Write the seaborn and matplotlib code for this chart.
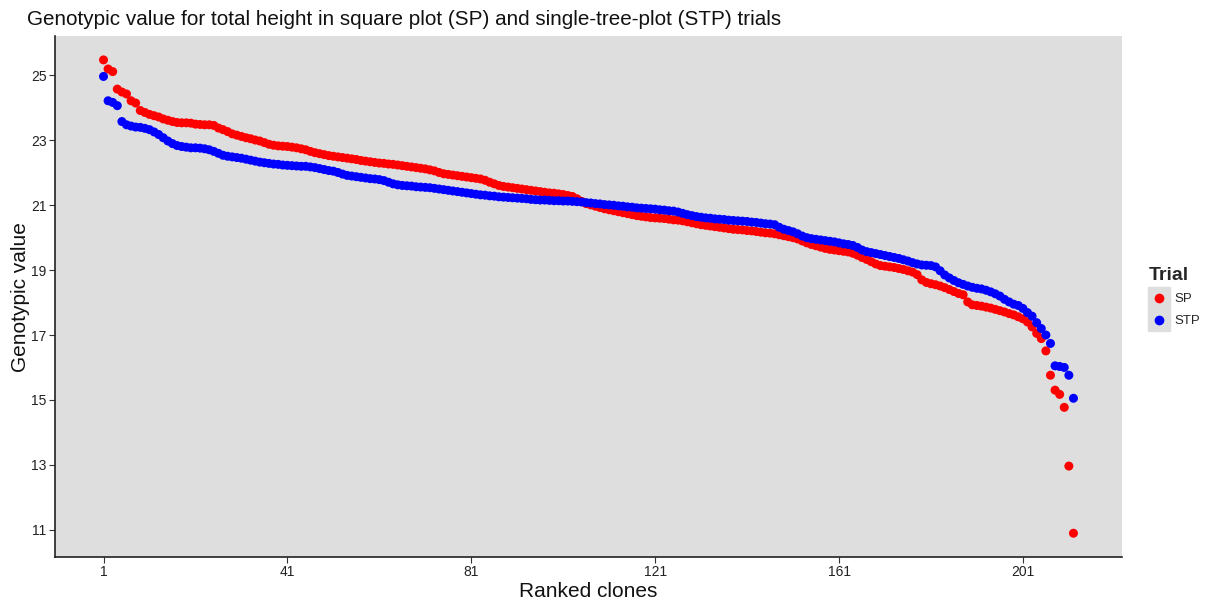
import numpy as np
import pandas as pd
import matplotlib
matplotlib.use("Agg")
import matplotlib.pyplot as plt
from matplotlib.lines import Line2D
from matplotlib.legend_handler import HandlerTuple
import seaborn as sns

# genotypic values, ranked clones 1..212
sp_values = [
    25.48, 25.20, 25.12, 24.58, 24.49, 24.43, 24.22, 24.15, 23.92, 23.86,
    23.80, 23.76, 23.72, 23.66, 23.62, 23.58, 23.55, 23.54, 23.54, 23.53,
    23.50, 23.49, 23.48, 23.48, 23.46, 23.38, 23.33, 23.27, 23.20, 23.16,
    23.12, 23.08, 23.05, 23.01, 22.98, 22.93, 22.88, 22.85, 22.83, 22.82,
    22.81, 22.79, 22.77, 22.74, 22.71, 22.66, 22.62, 22.59, 22.56, 22.53,
    22.51, 22.49, 22.47, 22.45, 22.43, 22.41, 22.38, 22.36, 22.34, 22.32,
    22.30, 22.29, 22.27, 22.26, 22.24, 22.22, 22.20, 22.18, 22.16, 22.14,
    22.12, 22.09, 22.06, 22.01, 21.97, 21.95, 21.93, 21.91, 21.89, 21.87,
    21.85, 21.83, 21.81, 21.77, 21.71, 21.66, 21.61, 21.58, 21.56, 21.54,
    21.52, 21.50, 21.48, 21.46, 21.44, 21.42, 21.40, 21.38, 21.37, 21.35,
    21.33, 21.30, 21.27, 21.20, 21.12, 21.05, 21.01, 20.97, 20.93, 20.89,
    20.86, 20.83, 20.80, 20.77, 20.74, 20.71, 20.68, 20.66, 20.64, 20.62,
    20.61, 20.60, 20.59, 20.57, 20.55, 20.54, 20.52, 20.49, 20.46, 20.43,
    20.40, 20.38, 20.36, 20.34, 20.32, 20.30, 20.28, 20.26, 20.25, 20.24,
    20.22, 20.21, 20.19, 20.17, 20.15, 20.14, 20.12, 20.09, 20.06, 20.03,
    20.00, 19.96, 19.90, 19.84, 19.79, 19.75, 19.71, 19.67, 19.64, 19.62,
    19.60, 19.58, 19.56, 19.52, 19.46, 19.39, 19.33, 19.26, 19.19, 19.14,
    19.12, 19.10, 19.08, 19.05, 19.02, 18.98, 18.94, 18.86, 18.70, 18.62,
    18.58, 18.55, 18.51, 18.46, 18.40, 18.34, 18.28, 18.24, 18.02, 17.93,
    17.91, 17.89, 17.86, 17.83, 17.79, 17.75, 17.71, 17.66, 17.62, 17.56,
    17.50, 17.40, 17.25, 17.05, 16.89, 16.51, 15.76, 15.30, 15.17, 14.77,
    12.96, 10.89,
]

stp_values = [
    24.97, 24.22, 24.17, 24.07, 23.58, 23.48, 23.44, 23.41, 23.40, 23.37,
    23.33, 23.26, 23.18, 23.08, 22.98, 22.90, 22.84, 22.81, 22.79, 22.77,
    22.77, 22.76, 22.74, 22.71, 22.66, 22.60, 22.54, 22.51, 22.49, 22.47,
    22.45, 22.42, 22.39, 22.36, 22.33, 22.31, 22.29, 22.27, 22.26, 22.24,
    22.23, 22.22, 22.21, 22.20, 22.20, 22.18, 22.16, 22.13, 22.10, 22.07,
    22.05, 22.01, 21.96, 21.92, 21.90, 21.88, 21.86, 21.84, 21.82, 21.81,
    21.79, 21.76, 21.71, 21.66, 21.63, 21.61, 21.60, 21.59, 21.57, 21.56,
    21.55, 21.54, 21.52, 21.50, 21.48, 21.46, 21.44, 21.42, 21.40, 21.38,
    21.36, 21.34, 21.32, 21.31, 21.29, 21.28, 21.26, 21.25, 21.24, 21.23,
    21.22, 21.21, 21.20, 21.18, 21.17, 21.16, 21.16, 21.15, 21.14, 21.14,
    21.13, 21.13, 21.12, 21.11, 21.10, 21.08, 21.07, 21.05, 21.04, 21.02,
    21.01, 21.00, 20.98, 20.97, 20.95, 20.94, 20.92, 20.91, 20.90, 20.89,
    20.88, 20.86, 20.85, 20.83, 20.82, 20.79, 20.75, 20.71, 20.68, 20.65,
    20.63, 20.61, 20.60, 20.58, 20.57, 20.56, 20.54, 20.53, 20.52, 20.51,
    20.50, 20.48, 20.47, 20.45, 20.43, 20.42, 20.40, 20.32, 20.26, 20.22,
    20.18, 20.12, 20.05, 20.00, 19.97, 19.95, 19.93, 19.91, 19.89, 19.87,
    19.84, 19.81, 19.79, 19.76, 19.70, 19.62, 19.57, 19.54, 19.51, 19.48,
    19.45, 19.42, 19.39, 19.36, 19.32, 19.28, 19.23, 19.19, 19.16, 19.15,
    19.14, 19.10, 18.98, 18.85, 18.76, 18.68, 18.61, 18.56, 18.51, 18.47,
    18.44, 18.42, 18.38, 18.33, 18.27, 18.20, 18.10, 18.02, 17.95, 17.91,
    17.82, 17.69, 17.58, 17.38, 17.20, 17.00, 16.74, 16.05, 16.03, 16.00,
    15.76, 15.05,
]

trials = ["SP", "STP"]
trial_colors = {"SP": "#FF0000", "STP": "#0000FF"}
x_ticks = [1, 41, 81, 121, 161, 201]
y_ticks = [11, 13, 15, 17, 19, 21, 23, 25]

ranks = np.arange(1, len(sp_values) + 1)
df = pd.DataFrame({
    "rank": np.concatenate([ranks, ranks]),
    "value": sp_values + stp_values,
    "Trial": ["SP"] * len(sp_values) + ["STP"] * len(stp_values),
})

sns.set_style("white")
plt.rcParams["font.family"] = ["Liberation Sans", "DejaVu Sans"]

fig = plt.figure(figsize=(12.09, 6.04), dpi=100)
ax = fig.add_axes([0.0455, 0.078, 0.8825, 0.862])
ax.set_facecolor("#DEDEDE")

sns.scatterplot(data=df, x="rank", y="value", hue="Trial", hue_order=trials,
                palette=trial_colors, s=42, linewidth=0, ax=ax, legend=False)

ax.set_xticks(x_ticks)
ax.set_yticks(y_ticks)
ax.margins(0.05)
ax.tick_params(axis="both", bottom=True, left=True, length=4, width=0.8,
               color="#333333", labelsize=10, labelcolor="#222222",
               direction="out", pad=2)
for side in ["top", "right"]:
    ax.spines[side].set_visible(False)
for side in ["left", "bottom"]:
    ax.spines[side].set_color("#222222")
    ax.spines[side].set_linewidth(1.2)
ax.grid(False)

ax.set_xlabel("Ranked clones", fontsize=15, color="#111111", labelpad=2)
ax.set_ylabel("Genotypic value", fontsize=15, color="#111111", labelpad=1)
fig.text(0.022, 0.967, "Genotypic value for total height in square plot (SP) "
         "and single-tree-plot (STP) trials", fontsize=14.9, color="#111111",
         ha="left", va="center")

# legend keys: grey square behind a coloured dot, like ggplot's keys
handles = []
for t in trials:
    box = Line2D([], [], marker="s", linestyle="", markersize=15.5,
                 markerfacecolor="#DEDEDE", markeredgecolor="#DEDEDE")
    dot = Line2D([], [], marker="o", linestyle="", markersize=7,
                 markerfacecolor=trial_colors[t], markeredgewidth=0)
    handles.append((box, dot))
leg = ax.legend(handles, trials, title="Trial", loc="upper left",
                bbox_to_anchor=(1.016, 0.575), frameon=False, fontsize=9.5,
                handler_map={tuple: HandlerTuple(ndivide=1, pad=0)},
                handlelength=1.63, handletextpad=0.35, labelspacing=0.72,
                borderaxespad=0.3)
leg.get_title().set_fontsize(14)
leg.get_title().set_fontweight("bold")
leg._legend_box.align = "left"

fig.savefig("out.png", dpi=100)
